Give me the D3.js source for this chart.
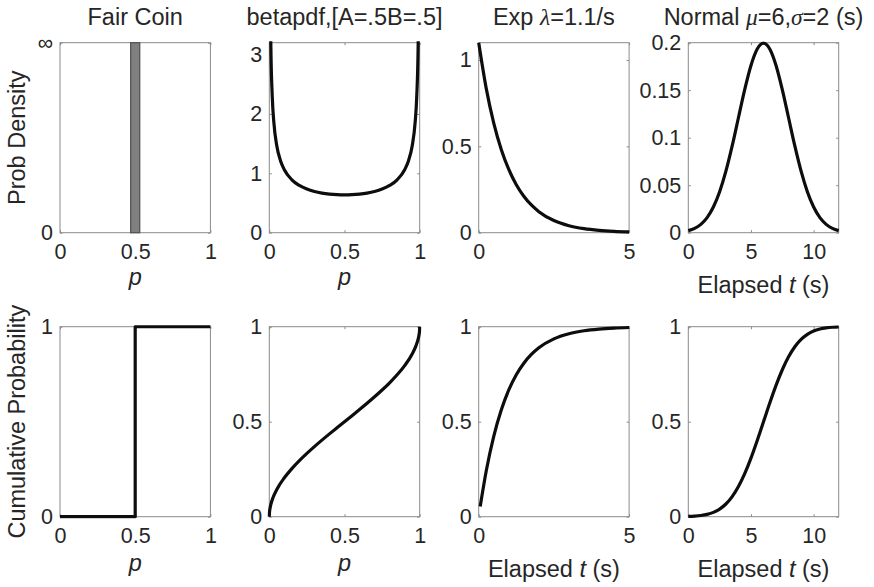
<!DOCTYPE html>
<html>
<head>
<meta charset="utf-8">
<script src="https://cdn.jsdelivr.net/npm/d3@7"></script>
<style>
  html, body { margin: 0; padding: 0; background: #fff; }
  svg { display: block; }
  text { font-family: "Liberation Sans", Arial, Helvetica, sans-serif; fill: #262626; }
</style>
</head>
<body>
<svg id="chart" width="874" height="587"></svg>
<script>
// ---- Values ----------------------------------------------------------

// Fair coin: all mass at p = 0.5 (drawn as a narrow bin), CDF is a step
const coinBin = [0.47, 0.53];
const coinCdfP = [0, 0.5, 0.5, 1];
const coinCdfF = [0, 0, 1, 1];

// Beta(0.5, 0.5) density
const betaP = [0.003, 0.005, 0.01, 0.02, 0.03, 0.05, 0.075, 0.1, 0.15, 0.2, 0.25, 0.3, 0.35, 0.4, 0.45, 0.5,
               0.55, 0.6, 0.65, 0.7, 0.75, 0.8, 0.85, 0.9, 0.925, 0.95, 0.97, 0.98, 0.99, 0.995, 0.997];
const betaPdf = [5.82, 4.513, 3.199, 2.274, 1.866, 1.461, 1.2085, 1.061, 0.8914, 0.7958, 0.7351, 0.6946, 0.6673, 0.6497, 0.6398, 0.6366,
                 0.6398, 0.6497, 0.6673, 0.6946, 0.7351, 0.7958, 0.8914, 1.061, 1.2085, 1.461, 1.866, 2.274, 3.199, 4.513, 5.82];

// Beta(0.5, 0.5) cumulative
const betaCdfP = [0, 0.001, 0.005, 0.01, 0.025, 0.05, 0.1, 0.15, 0.2, 0.25, 0.3, 0.35, 0.4, 0.45, 0.5,
                  0.55, 0.6, 0.65, 0.7, 0.75, 0.8, 0.85, 0.9, 0.95, 0.975, 0.99, 0.995, 0.999, 1];
const betaCdf = [0, 0.0201, 0.0451, 0.0638, 0.1011, 0.1436, 0.2048, 0.2532, 0.2952, 0.3333, 0.3690, 0.4030, 0.4359, 0.4681, 0.5,
                 0.5319, 0.5641, 0.5970, 0.6310, 0.6667, 0.7048, 0.7468, 0.7952, 0.8564, 0.8989, 0.9362, 0.9549, 0.9799, 1];

// Exponential, rate 1.1 per second
const expT = [0, 0.25, 0.5, 0.75, 1, 1.25, 1.5, 1.75, 2, 2.5, 3, 3.5, 4, 4.5, 5];
const expPdf = [1.1, 0.8355, 0.6346, 0.4820, 0.3662, 0.2781, 0.2112, 0.1605, 0.1219, 0.0703, 0.0406, 0.0234, 0.0135, 0.0078, 0.0045];
const expCdfT = [0.05, 0.25, 0.5, 0.75, 1, 1.25, 1.5, 1.75, 2, 2.5, 3, 3.5, 4, 4.5, 5];
const expCdf = [0.0535, 0.2404, 0.4231, 0.5618, 0.6671, 0.7472, 0.8080, 0.8541, 0.8892, 0.9361, 0.9631, 0.9787, 0.9877, 0.9929, 0.9959];

// Normal, mean 6 s, sd 2 s
const normT = [0, 0.5, 1, 1.5, 2, 2.5, 3, 3.5, 4, 4.5, 5, 5.5, 6, 6.5, 7, 7.5, 8, 8.5, 9, 9.5, 10, 10.5, 11, 11.5, 12];
const normPdf = [0.00222, 0.00455, 0.00876, 0.01587, 0.02700, 0.04314, 0.06476, 0.09133, 0.12099, 0.15057, 0.17603, 0.19333, 0.19947,
                 0.19333, 0.17603, 0.15057, 0.12099, 0.09133, 0.06476, 0.04314, 0.02700, 0.01587, 0.00876, 0.00455, 0.00222];
const normCdf = [0.00135, 0.00298, 0.00621, 0.01222, 0.02275, 0.04006, 0.06681, 0.10565, 0.15866, 0.22663, 0.30854, 0.40129, 0.5,
                 0.59871, 0.69146, 0.77337, 0.84134, 0.89435, 0.93319, 0.95994, 0.97725, 0.98778, 0.99379, 0.99702, 0.99865];

// Tick values
const xTicksP = [0, 0.5, 1];
const xTicksExp = [0, 5];
const xTicksNorm = [0, 5, 10];
const yTicksCoinPdf = [0, 1];
const yTickLabelsCoinPdf = ["0", "\u221E"];
const yTicksBetaPdf = [0, 1, 2, 3];
const yTicksExpPdf = [0, 0.5, 1];
const yTicksNormPdf = [0, 0.05, 0.1, 0.15, 0.2];
const yTicksCoinCdf = [0, 1];
const yTicksCdf = [0, 0.5, 1];

// ---- Layout ----------------------------------------------------------
const svg = d3.select("#chart");
const colX = [60, 269.3, 478.7, 688.3];
const rowY = [42.7, 326.7];
const pw = 150.4, ph = 190;
const tickFont = 21.5, labelFont = 23.5;

const zip = (a, b) => a.map((v, i) => [v, b[i]]);

const xLabelP = [{ t: "p", italic: true }];
const xLabelT = [{ t: "Elapsed " }, { t: "t", italic: true }, { t: " (s)" }];

const panels = [
  { r: 0, c: 0, title: [{ t: "Fair Coin" }], xd: [0, 1], yd: [0, 1], xt: xTicksP, yt: yTicksCoinPdf, ytl: yTickLabelsCoinPdf,
    xl: xLabelP, yl: "Prob Density", bin: coinBin },
  { r: 0, c: 1, title: [{ t: "betapdf,[A=.5B=.5]" }], xd: [0, 1], yd: [0, 3.2], xt: xTicksP, yt: yTicksBetaPdf,
    xl: xLabelP, line: zip(betaP, betaPdf) },
  { r: 0, c: 2, title: [{ t: "Exp " }, { t: "\u03BB", greek: true }, { t: "=1.1/s" }], xd: [0, 5], yd: [0, 1.1], xt: xTicksExp, yt: yTicksExpPdf,
    line: zip(expT, expPdf) },
  { r: 0, c: 3, title: [{ t: "Normal " }, { t: "\u03BC", greek: true }, { t: "=6," }, { t: "\u03C3", greek: true }, { t: "=2 (s)" }],
    xd: [0, 12], yd: [0, 0.2], xt: xTicksNorm, yt: yTicksNormPdf, xl: xLabelT, line: zip(normT, normPdf) },
  { r: 1, c: 0, xd: [0, 1], yd: [0, 1], xt: xTicksP, yt: yTicksCoinCdf, xl: xLabelP, yl: "Cumulative Probability",
    line: zip(coinCdfP, coinCdfF), step: true },
  { r: 1, c: 1, xd: [0, 1], yd: [0, 1], xt: xTicksP, yt: yTicksCdf, xl: xLabelP, line: zip(betaCdfP, betaCdf) },
  { r: 1, c: 2, xd: [0, 5], yd: [0, 1], xt: xTicksExp, yt: yTicksCdf, xl: xLabelT, line: zip(expCdfT, expCdf) },
  { r: 1, c: 3, xd: [0, 12], yd: [0, 1], xt: xTicksNorm, yt: yTicksCdf, xl: xLabelT, line: zip(normT, normCdf) }
];

function richText(sel, parts) {
  parts.forEach(p => {
    const ts = sel.append("tspan").text(p.t);
    if (p.italic) ts.attr("font-style", "italic");
    if (p.greek) ts.attr("font-family", "'Liberation Serif', 'DejaVu Serif', serif").attr("font-style", "italic");
  });
}

const fmt = v => String(v);

panels.forEach((P, i) => {
  const x0 = colX[P.c], y0 = rowY[P.r];
  const g = svg.append("g").attr("transform", `translate(${x0},${y0})`);
  const x = d3.scaleLinear().domain(P.xd).range([0, pw]);
  const y = d3.scaleLinear().domain(P.yd).range([ph, 0]);

  const clipId = "clip" + i;
  g.append("clipPath").attr("id", clipId)
    .append("rect").attr("x", -2).attr("y", -1.5).attr("width", pw + 4).attr("height", ph + 3.5);

  // axis box
  g.append("rect").attr("width", pw).attr("height", ph)
    .attr("fill", "none").attr("stroke", "#8a8a8a").attr("stroke-width", 1);

  const styleAxis = a => {
    a.select(".domain").remove();
    a.selectAll(".tick line").attr("stroke", "#8a8a8a");
    a.selectAll("text").attr("fill", "#262626").attr("font-size", tickFont)
      .attr("font-family", "'Liberation Sans', Arial, Helvetica, sans-serif");
  };

  const yFmt = P.ytl ? (d => P.ytl[P.yt.indexOf(d)]) : fmt;

  g.append("g").attr("transform", `translate(0,${ph})`)
    .call(d3.axisBottom(x).tickValues(P.xt).tickFormat(fmt).tickSizeInner(-2.5).tickSizeOuter(0).tickPadding(11.5))
    .call(styleAxis);
  g.append("g")
    .call(d3.axisTop(x).tickValues(P.xt).tickFormat("").tickSizeInner(-2.5).tickSizeOuter(0))
    .call(styleAxis);
  g.append("g")
    .call(d3.axisLeft(y).tickValues(P.yt).tickFormat(yFmt).tickSizeInner(-2.5).tickSizeOuter(0).tickPadding(7))
    .call(styleAxis);
  g.append("g").attr("transform", `translate(${pw},0)`)
    .call(d3.axisRight(y).tickValues(P.yt).tickFormat("").tickSizeInner(-2.5).tickSizeOuter(0))
    .call(styleAxis);

  const plot = g.append("g").attr("clip-path", `url(#${clipId})`);

  if (P.bin) {
    plot.append("rect")
      .attr("x", x(P.bin[0])).attr("width", x(P.bin[1]) - x(P.bin[0]))
      .attr("y", y(P.yd[1])).attr("height", y(0) - y(P.yd[1]))
      .attr("fill", "#808080").attr("stroke", "#555").attr("stroke-width", 1.3);
  }

  if (P.line) {
    const line = d3.line().x(d => x(d[0])).y(d => y(d[1]))
      .curve(P.step ? d3.curveLinear : d3.curveMonotoneX);
    plot.append("path").datum(P.line).attr("d", line)
      .attr("fill", "none").attr("stroke", "#0d0d0d").attr("stroke-width", 3.2)
      .attr("stroke-linejoin", "round").attr("stroke-linecap", "butt");
  }

  if (P.title) {
    const t = g.append("text").attr("x", pw / 2).attr("y", 25 - y0)
      .attr("text-anchor", "middle").attr("font-size", labelFont).attr("fill", "#000");
    richText(t, P.title);
  }
  if (P.xl) {
    const isP = P.xl.length === 1;
    const base = isP ? (P.r === 0 ? 285 : 571) : (P.r === 0 ? 293 : 577);
    const t = g.append("text").attr("x", pw / 2).attr("y", base - y0)
      .attr("text-anchor", "middle").attr("font-size", labelFont);
    richText(t, P.xl);
  }
  if (P.yl) {
    g.append("text")
      .attr("transform", `translate(${25 - x0},${ph / 2}) rotate(-90)`)
      .attr("text-anchor", "middle").attr("font-size", labelFont)
      .text(P.yl);
  }
});
</script>
</body>
</html>
